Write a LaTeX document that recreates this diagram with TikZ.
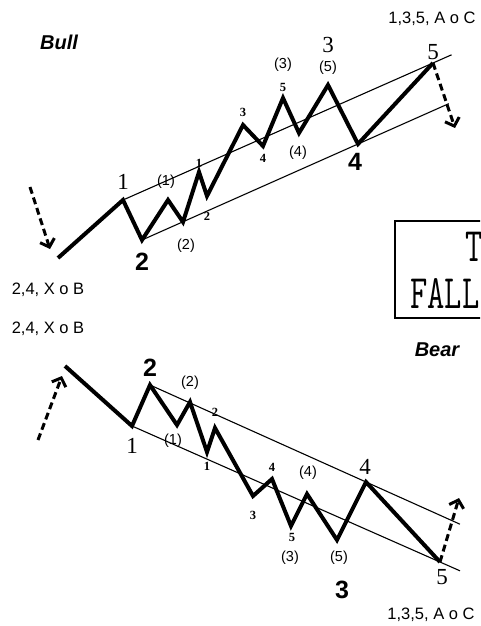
\documentclass[tikz,border=0pt]{standalone}
\usepackage{fontspec}
\setmainfont{Liberation Serif}
\setsansfont{Liberation Sans}
\usetikzlibrary{arrows.meta,calc}

\tikzset{
	wave/.style={line width=4pt, miter limit=4},
	chan/.style={line width=1.1pt},
	hint/.style={line width=3pt, dash pattern=on 7pt off 4pt,
		-{Straight Barb[length=7pt,width=15pt,line width=3pt]}},
	title/.style={font=\sffamily\bfseries\itshape\fontsize{20}{22}\selectfont},
	note/.style={font=\sffamily\fontsize{16.5}{18}\selectfont},
	bignum/.style={font=\fontsize{23}{24}\selectfont},
	bigsans/.style={font=\sffamily\bfseries\fontsize{25}{27}\selectfont},
	sub/.style={font=\sffamily\fontsize{14.5}{16}\selectfont},
	tiny/.style={font=\bfseries\fontsize{12.5}{14}\selectfont},
	every node/.style={inner sep=0pt}
}

\begin{document}
\begin{tikzpicture}[x=1pt,y=-1pt]
	\useasboundingbox (0,0) rectangle (480,626);
	\clip (0,0) rectangle (480,626);
	% bull market
	\coordinate (b0) at (58,258);  \coordinate (b1) at (123,200);
	\coordinate (b2) at (142,240); \coordinate (ba) at (168,200);
	\coordinate (bb) at (183,222); \coordinate (bc) at (199,172);
	\coordinate (bd) at (207,196); \coordinate (be) at (243,125);
	\coordinate (bf) at (263,146); \coordinate (bg) at (283,98);
	\coordinate (bh) at (299,133); \coordinate (b3) at (328,85);
	\coordinate (b4) at (358,144); \coordinate (b5) at (433,63);
	\coordinate (bin) at (30,187); \coordinate (bout) at (455,128);
	\draw[chan] (b1) -- ($(b1)!1.06!(b5)$);
	\draw[chan] (b2) -- ($(b2)!1.42!(b4)$);
	\draw[wave] (b0) -- (b1) -- (b2) -- (ba) -- (bb) -- (bc) -- (bd) -- (be)
		-- (bf) -- (bg) -- (bh) -- (b3) -- (b4) -- (b5);
	\draw[hint] (bin) -- (50,249);
	\draw[hint] (b5) -- (bout);
	\node[title] (bull) at (59,42) {Bull};
	\node[note] (bulltop) at (432,19) {1,3,5, A o C};
	\node[note] (bullbot) at (48,290) {2,4, X o B};
	\node[bignum] (lb1) at (123,182) {1};
	\node[bigsans] (lb2) at (142,262) {2};
	\node[bignum] (lb3) at (328,45) {3};
	\node[bigsans] (lb4) at (355,162) {4};
	\node[bignum] (lb5) at (433,52) {5};
	\node[sub] (lba) at (166,182) {(1)};
	\node[sub] (lbb) at (186,246) {(2)};
	\node[sub] (lbg) at (283,65) {(3)};
	\node[sub] (lbh) at (298,153) {(4)};
	\node[sub] (lbk) at (328,68) {(5)};
	\node[tiny] (sb1) at (199,163) {1};
	\node[tiny] (sb2) at (207,216) {2};
	\node[tiny] (sb3) at (243,112) {3};
	\node[tiny] (sb4) at (263,158) {4};
	\node[tiny] (sb5) at (283,87) {5};
	% cut-off box
	\draw[line width=1.3pt] (500,221) -- (395,221) -- (395,318) -- (500,318);
	\node[font=\ttfamily\fontsize{48}{50}\selectfont, xscale=0.7, anchor=west] (boxt) at (465,247) {T};
	\node[font=\ttfamily\fontsize{48}{50}\selectfont, xscale=0.7, anchor=west] (boxf) at (410,293) {FALL};
	% bear market
	\coordinate (r0) at (65,366);  \coordinate (r1) at (132,426);
	\coordinate (r2) at (150,385); \coordinate (ra) at (177,425);
	\coordinate (rb) at (190,402); \coordinate (rc) at (207,452);
	\coordinate (rd) at (215,428); \coordinate (re) at (253,496);
	\coordinate (rf) at (272,479); \coordinate (rg) at (291,526);
	\coordinate (rh) at (307,494); \coordinate (r3) at (337,540);
	\coordinate (r4) at (366,482); \coordinate (r5) at (440,562);
	\coordinate (rin) at (38,440); \coordinate (rout) at (459,498);
	\draw[chan] (r2) -- ($(r2)!1.435!(r4)$);
	\draw[chan] (r1) -- ($(r1)!1.065!(r5)$);
	\draw[wave] (r0) -- (r1) -- (r2) -- (ra) -- (rb) -- (rc) -- (rd) -- (re)
		-- (rf) -- (rg) -- (rh) -- (r3) -- (r4) -- (r5);
	\draw[hint] (rin) -- (62,376);
	\draw[hint] (r5) -- (rout);
	\node[title] (bear) at (437,350) {Bear};
	\node[note] (beartop) at (48,329) {2,4, X o B};
	\node[note] (bearbot) at (431,615) {1,3,5, A o C};
	\node[bignum] (lr1) at (132,446) {1};
	\node[bigsans] (lr2) at (150,368) {2};
	\node[bigsans] (lr3) at (342,590) {3};
	\node[bignum] (lr4) at (365,467) {4};
	\node[bignum] (lr5) at (442,577) {5};
	\node[sub] (lra) at (173,441) {(1)};
	\node[sub] (lrb) at (190,383) {(2)};
	\node[sub] (lrg) at (290,558) {(3)};
	\node[sub] (lrh) at (308,473) {(4)};
	\node[sub] (lrk) at (339,558) {(5)};
	\node[tiny] (sr1) at (207,466) {1};
	\node[tiny] (sr2) at (215,412) {2};
	\node[tiny] (sr3) at (253,515) {3};
	\node[tiny] (sr4) at (272,467) {4};
	\node[tiny] (sr5) at (292,537) {5};
\end{tikzpicture}
\end{document}
